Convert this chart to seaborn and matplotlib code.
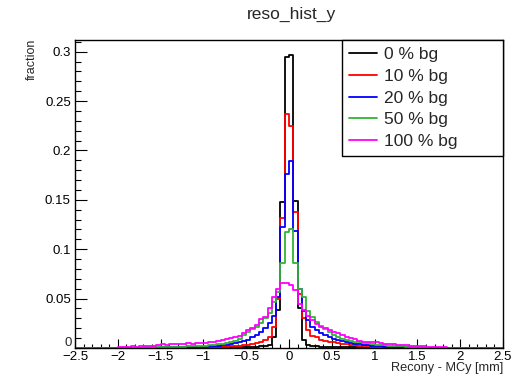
import numpy as np
import pandas as pd
import matplotlib
matplotlib.use("Agg")
import matplotlib.pyplot as plt
import seaborn as sns
from matplotlib.ticker import MultipleLocator, FuncFormatter
from matplotlib.lines import Line2D

# ---- data: fraction per 0.05 mm bin ----
# left tail  : bins from -2.5 to -1.0 (30 bins)
# core       : bins from -1.0 to  1.0 (40 bins)
# right tail : bins from  1.0 to  2.5 (30 bins)
labels = ["0 % bg", "10 % bg", "20 % bg", "50 % bg", "100 % bg"]
colors = ["#000000", "#ff0000", "#0000ff", "#33b333", "#ff00ff"]

bg0_left = [0.0] * 20 + [0.0003, 0.0003, 0.0003, 0.0004, 0.0004, 0.0004, 0.0005, 0.0005, 0.0005, 0.0005]
bg0_core = [0.0005, 0.0005, 0.0005, 0.0008, 0.0008, 0.0008, 0.001, 0.001, 0.001, 0.001,
            0.0012, 0.0012, 0.0015, 0.0018, 0.002, 0.003, 0.0115, 0.0385, 0.148, 0.295,
            0.297, 0.149, 0.040, 0.008, 0.003, 0.002, 0.0018, 0.0015, 0.0012, 0.0012,
            0.001, 0.001, 0.001, 0.0008, 0.0008, 0.0008, 0.0006, 0.0005, 0.0005, 0.0005]
bg0_right = [0.0005, 0.0005, 0.0004, 0.0004, 0.0003, 0.0003, 0.0003, 0.0002, 0.0002, 0.0002] + [0.0] * 20

bg10_left = [0.0] * 20 + [0.0005, 0.0005, 0.0006, 0.0006, 0.0007, 0.0007, 0.0008, 0.0008, 0.0009, 0.001]
bg10_core = [0.001, 0.001, 0.0012, 0.0012, 0.0015, 0.0015, 0.0018, 0.002, 0.0025, 0.003,
             0.0035, 0.004, 0.005, 0.0064, 0.008, 0.0115, 0.0216, 0.050, 0.132, 0.237,
             0.225, 0.138, 0.055, 0.030, 0.018, 0.012, 0.011, 0.008, 0.0074, 0.0065,
             0.006, 0.005, 0.0045, 0.004, 0.0035, 0.003, 0.0025, 0.002, 0.002, 0.0015]
bg10_right = [0.0013, 0.0012, 0.001, 0.001, 0.0008, 0.0008, 0.0007, 0.0006, 0.0005, 0.0005,
              0.0004, 0.0004, 0.0003, 0.0003, 0.0002] + [0.0] * 15

bg20_left = [0.0] * 20 + [0.0006, 0.0006, 0.0007, 0.0008, 0.0008, 0.0009, 0.001, 0.0011, 0.0012, 0.0013]
bg20_core = [0.0015, 0.002, 0.002, 0.0025, 0.003, 0.0035, 0.004, 0.005, 0.006, 0.007,
             0.008, 0.011, 0.013, 0.0165, 0.020, 0.025, 0.032, 0.052, 0.122, 0.176,
             0.189, 0.118, 0.060, 0.037, 0.028, 0.0216, 0.018, 0.015, 0.013, 0.011,
             0.009, 0.008, 0.007, 0.006, 0.005, 0.0045, 0.004, 0.0035, 0.003, 0.0025]
bg20_right = [0.002, 0.0018, 0.0015, 0.0013, 0.0012, 0.001, 0.0008, 0.0007, 0.0006, 0.0005,
              0.0005, 0.0004, 0.0004, 0.0003, 0.0003, 0.0002, 0.0002] + [0.0] * 13

bg50_left = [0.0] * 10 + [0.0003, 0.0003, 0.0004, 0.0004, 0.0005, 0.0005, 0.0006, 0.0007, 0.0008, 0.0009,
                          0.001, 0.001, 0.0012, 0.0012, 0.0015, 0.0015, 0.0018, 0.002, 0.002, 0.0022]
bg50_core = [0.0025, 0.003, 0.0035, 0.004, 0.0045, 0.0055, 0.0065, 0.0075, 0.009, 0.013,
             0.0165, 0.019, 0.0216, 0.025, 0.030, 0.035, 0.047, 0.057, 0.086, 0.117,
             0.120, 0.086, 0.060, 0.052, 0.037, 0.031, 0.026, 0.022, 0.019, 0.0165,
             0.013, 0.011, 0.0095, 0.008, 0.0075, 0.0065, 0.006, 0.005, 0.0047, 0.004]
bg50_right = [0.0035, 0.003, 0.0028, 0.0025, 0.002, 0.002, 0.0018, 0.0015, 0.0012, 0.001,
              0.0008, 0.0006, 0.0005, 0.0004, 0.0003, 0.0003] + [0.0] * 14

bg100_left = [0.0] * 10 + [0.001, 0.0015, 0.001, 0.002, 0.0015, 0.002, 0.002, 0.0025, 0.002, 0.003,
                           0.004, 0.0035, 0.004, 0.0045, 0.004, 0.0045, 0.005, 0.0045, 0.005, 0.0055]
bg100_core = [0.005, 0.006, 0.006, 0.007, 0.008, 0.009, 0.010, 0.011, 0.012, 0.015,
              0.018, 0.020, 0.023, 0.029, 0.031, 0.040, 0.052, 0.060, 0.0655, 0.0655,
              0.064, 0.059, 0.045, 0.0385, 0.032, 0.028, 0.024, 0.0216, 0.020, 0.018,
              0.016, 0.015, 0.013, 0.0115, 0.010, 0.009, 0.0075, 0.0065, 0.006, 0.006]
bg100_right = [0.0065, 0.005, 0.0045, 0.004, 0.004, 0.0035, 0.003, 0.003, 0.0025, 0.0025,
               0.002, 0.002, 0.0015, 0.0015, 0.001, 0.001, 0.0008, 0.0005] + [0.0] * 12

series = [
    bg0_left + bg0_core + bg0_right,
    bg10_left + bg10_core + bg10_right,
    bg20_left + bg20_core + bg20_right,
    bg50_left + bg50_core + bg50_right,
    bg100_left + bg100_core + bg100_right,
]

edges = np.linspace(-2.5, 2.5, 101)
centers = 0.5 * (edges[:-1] + edges[1:])

# ---- style ----
sns.set_theme(style="white")
plt.rcParams['font.family'] = ['Liberation Sans', 'DejaVu Sans']
plt.rcParams['axes.unicode_minus'] = True

W, H = 527, 380
fig = plt.figure(figsize=(W / 100, H / 100), dpi=100)
ax = fig.add_axes([75 / W, 1 - 348 / H, (503 - 75) / W, (348 - 40) / H])

for vals, col in zip(series, colors):
    df = pd.DataFrame({'x': centers, 'w': vals})
    sns.histplot(data=df, x='x', weights='w', binwidth=0.05, binrange=(-2.5, 2.5),
                 element='step', fill=False, color=col, linewidth=1.3, ax=ax)

ax.set_xlim(-2.5, 2.5)
ax.set_ylim(0, 0.3118)
ax.set_xlabel('')
ax.set_ylabel('')

for s in ax.spines.values():
    s.set_color('black')
    s.set_linewidth(1.0)

ax.xaxis.set_major_locator(MultipleLocator(0.5))
ax.xaxis.set_minor_locator(MultipleLocator(0.1))
ax.yaxis.set_major_locator(MultipleLocator(0.05))
ax.yaxis.set_minor_locator(MultipleLocator(0.01))
xfmt = FuncFormatter(lambda v, p: ('%g' % round(v, 3)).replace('-', '\u2212'))
# the y "0" label is drawn separately, a bit higher, like ROOT does
yfmt = FuncFormatter(lambda v, p: '' if abs(v) < 1e-9 else '%g' % round(v, 3))
ax.xaxis.set_major_formatter(xfmt)
ax.yaxis.set_major_formatter(yfmt)

ax.tick_params(axis='x', which='major', direction='in', length=6.5, width=0.8,
               labelsize=9.5, pad=2.5, bottom=True, top=False, colors='black')
ax.tick_params(axis='x', which='minor', direction='in', length=3.2, width=0.8,
               bottom=True, top=False, colors='black')
ax.tick_params(axis='y', which='major', direction='in', length=8.8, width=0.8,
               labelsize=9.5, pad=3, left=True, right=False, colors='black')
ax.tick_params(axis='y', which='minor', direction='in', length=4.4, width=0.8,
               left=True, right=False, colors='black')
fig.text(71.5 / W, 1 - 343 / H, '0', ha='right', va='center', fontsize=9.5)

# legend
handles = [Line2D([0], [0], color=c, lw=1.3) for c in colors]
leg = ax.legend(handles, labels, loc='upper left',
                bbox_to_anchor=((342 - 75) / 428, 1.0, (503 - 342) / 428, 0.0),
                mode='expand', borderaxespad=0, fancybox=False, frameon=True,
                edgecolor='black', framealpha=1, fontsize=12.5,
                handlelength=1.6, handletextpad=0.4, labelspacing=0.38,
                borderpad=0.4)
leg.get_frame().set_linewidth(1.0)

# titles
fig.text(291 / W, 1 - 14 / H, 'reso_hist_y', ha='center', va='center', fontsize=12.5)
fig.text(31.5 / W, 1 - 39 / H, 'fraction', rotation=90, ha='center', va='top', fontsize=9)
fig.text(503 / W, 1 - 362 / H, 'Recony - MCy [mm]', ha='right', va='top', fontsize=9.2)

fig.savefig('out.png', dpi=100)
